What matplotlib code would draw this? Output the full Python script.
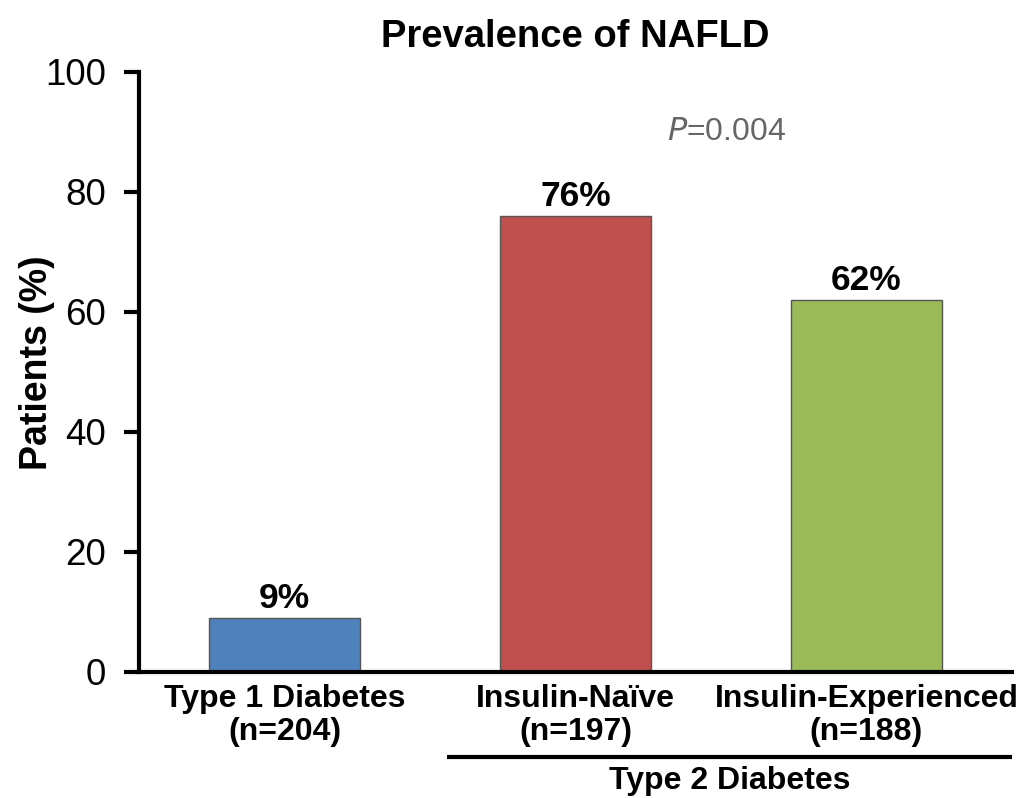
import matplotlib.pyplot as plt
from matplotlib.transforms import blended_transform_factory

plt.rcParams['font.family'] = ['Liberation Sans', 'DejaVu Sans']

groups = ['Type 1 Diabetes\n(n=204)', 'Insulin-Naïve\n(n=197)', 'Insulin-Experienced\n(n=188)']
prevalence = [9, 76, 62]
bar_colors = ['#4F81BD', '#C0504D', '#9BBB59']
p_value = '0.004'

fig = plt.figure(figsize=(10.22, 7.98), dpi=100)
ax = fig.add_axes([0.136, 0.158, 0.854, 0.752])

x = range(len(prevalence))
bars = ax.bar(x, prevalence, width=0.52, color=bar_colors, edgecolor='#555555', linewidth=1)

# value labels on top of bars
for rect, v in zip(bars, prevalence):
    ax.text(rect.get_x() + rect.get_width() / 2, v + 0.5, f'{v}%',
            ha='center', va='bottom', fontsize=25.5, fontweight='bold')

ax.set_xlim(-0.5, 2.5)
ax.set_ylim(0, 100)
ax.set_yticks(range(0, 101, 20))
ax.tick_params(axis='y', labelsize=26.5, length=11, width=3, direction='out', pad=13)
ax.set_xticks(list(x))
ax.set_xticklabels(groups, fontsize=23, fontweight='bold', linespacing=1.1)
ax.tick_params(axis='x', length=0, pad=9)

for side in ['top', 'right']:
    ax.spines[side].set_visible(False)
ax.spines['left'].set_linewidth(3)
ax.spines['bottom'].set_linewidth(3)

ax.set_ylabel('Patients (%)', fontsize=27, fontweight='bold')
ax.yaxis.set_label_coords(-0.096, 0.515)
ax.set_title('Prevalence of NAFLD', fontsize=27.5, fontweight='bold', pad=18)

ax.text(1.52, 90, '$\\it{P}$=' + p_value, fontsize=23, color='#666666',
        ha='center', va='center')

# bracket line grouping the two type 2 diabetes categories
trans = blended_transform_factory(ax.transData, ax.transAxes)
ax.plot([0.558, 2.5], [-0.142, -0.142], color='black', linewidth=3,
        transform=trans, clip_on=False, solid_capstyle='butt')
ax.text(1.53, -0.156, 'Type 2 Diabetes', transform=trans, ha='center', va='top',
        fontsize=23, fontweight='bold')

fig.savefig('out.png', dpi=100)
